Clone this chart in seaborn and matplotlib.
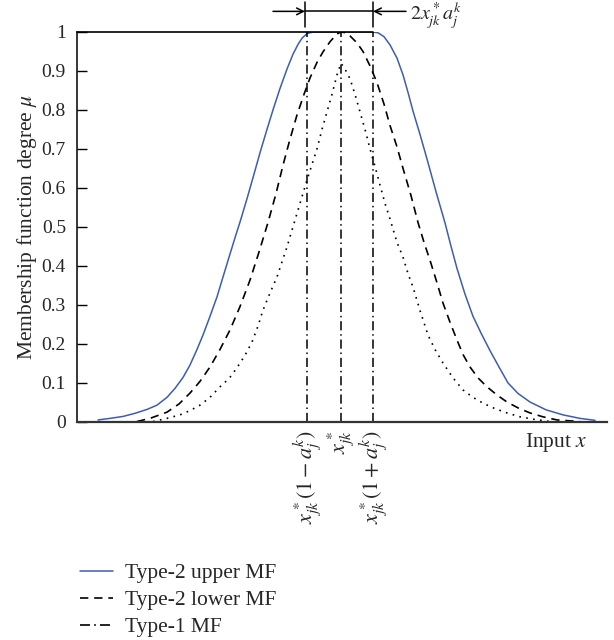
import numpy as np
import pandas as pd
import matplotlib
matplotlib.use("Agg")
import matplotlib.pyplot as plt
import seaborn as sns
from matplotlib.lines import Line2D

# ---------------- data (x in arbitrary input units) ----------------
upper_x = [98, 110, 123, 135, 147, 157, 167, 175, 183, 190, 197, 203, 210, 217, 223, 230, 236, 240,
           247, 253, 260, 267, 273, 280, 287, 293, 298, 302, 307, 313,
           341, 373, 378, 384, 390, 397, 403, 408, 413, 420, 427, 436, 445, 451, 457, 465, 473,
           482, 490, 499, 508, 518, 530, 546, 563, 580, 595]
upper_y = [0.004, 0.008, 0.013, 0.021, 0.031, 0.042, 0.062, 0.085, 0.113, 0.145, 0.185, 0.222, 0.27, 0.32,
           0.371, 0.43, 0.48, 0.512, 0.572, 0.626, 0.69, 0.75, 0.80, 0.855, 0.905, 0.943, 0.968, 0.984,
           0.996, 1.0,
           1.0, 1.0, 0.998, 0.988, 0.967, 0.933, 0.89, 0.845, 0.797, 0.737, 0.674, 0.59, 0.51, 0.45,
           0.393, 0.327, 0.27, 0.222, 0.182, 0.14, 0.099, 0.072, 0.05, 0.03, 0.017, 0.008, 0.003]

lower_x = [137, 150, 167, 179, 190, 200, 210, 220, 230, 240, 250, 259, 268, 276, 283, 290, 297, 304,
           310, 317, 323, 330, 337, 341, 346, 350, 357, 363, 370, 377, 384, 390, 397, 403, 411, 418,
           424, 430, 437, 443, 450, 457, 463, 470, 478, 487, 497, 507, 518, 530, 543, 557, 580]
lower_y = [0.0, 0.008, 0.024, 0.045, 0.073, 0.103, 0.14, 0.185, 0.235, 0.295, 0.363, 0.435, 0.511,
           0.585, 0.658, 0.725, 0.787, 0.84, 0.882, 0.922, 0.949, 0.975, 0.995, 1.0, 0.998, 0.99,
           0.972, 0.95, 0.913, 0.87, 0.815, 0.76, 0.705, 0.65, 0.58, 0.511, 0.46, 0.414, 0.356,
           0.304, 0.255, 0.209, 0.172, 0.14, 0.112, 0.089, 0.068, 0.05, 0.035, 0.022, 0.012, 0.004, 0.0]

type1_x = [153, 167, 180, 190, 200, 210, 220, 229, 237, 245, 252, 258, 263, 270, 277, 282, 287, 293,
           300, 307, 312, 317, 322, 327, 332, 337, 341, 345, 350, 355, 360, 365, 370, 375, 380, 385,
           390, 397, 403, 408, 413, 420, 428, 435, 443, 453, 463, 473, 483, 495, 507, 520, 533, 550]
type1_y = [0.0, 0.008, 0.017, 0.028, 0.042, 0.062, 0.089, 0.11, 0.138, 0.17, 0.204, 0.245, 0.286,
           0.33, 0.371, 0.41, 0.448, 0.5, 0.56, 0.62, 0.66, 0.70, 0.75, 0.795, 0.84, 0.89, 0.92,
           0.905, 0.88, 0.84, 0.795, 0.75, 0.70, 0.655, 0.607, 0.56, 0.52, 0.46, 0.422, 0.38,
           0.345, 0.285, 0.222, 0.185, 0.15, 0.112, 0.081, 0.062, 0.047, 0.033, 0.022, 0.012,
           0.006, 0.0]

ref_x = [307, 341, 373]
ref_labels = [r"$x^*_{jk}(1-a^k_j)$", r"$x^*_{jk}$", r"$x^*_{jk}(1+a^k_j)$"]
ytick_vals = [0, 0.1, 0.2, 0.3, 0.4, 0.5, 0.6, 0.7, 0.8, 0.9, 1]
ytick_labels = ["0", "0.1", "0.2", "0.3", "0.4", "0.5", "0.6", "0.7", "0.8", "0.9", "1"]
legend_labels = ["Type-2 upper MF", "Type-2 lower MF", "Type-1 MF"]

# ---------------- style ----------------
sns.set_theme(style="white")
plt.rcParams["font.family"] = ["Liberation Serif", "DejaVu Serif"]
plt.rcParams["mathtext.fontset"] = "stix"
FS = 14
FS_L = 15.5

BLUE = "#3d5db3"
DASH = (0, (5, 3.5))
DOT = (0, (1, 3.2))
DASHDOT = (0, (6, 2.5, 1, 2.5))

fig = plt.figure(figsize=(6.14, 6.4), dpi=100)
ax = fig.add_axes([77 / 614, 1 - 421.5 / 640, 530 / 614, 389.5 / 640])

df_u = pd.DataFrame({"x": upper_x, "y": upper_y})
df_l = pd.DataFrame({"x": lower_x, "y": lower_y})
df_t = pd.DataFrame({"x": type1_x, "y": type1_y})

sns.lineplot(data=df_u, x="x", y="y", ax=ax, color=BLUE, lw=1.1,
             estimator=None, sort=False)
sns.lineplot(data=df_l, x="x", y="y", ax=ax, color="black", lw=1.2,
             estimator=None, sort=False, linestyle=DASH)
sns.lineplot(data=df_t, x="x", y="y", ax=ax, color="black", lw=1.2,
             estimator=None, sort=False, linestyle=DOT)

for xv in ref_x:
    ax.plot([xv, xv], [0, 1], color="black", lw=1.1, linestyle=DASHDOT)

# horizontal line at mu = 1 up to the right reference line
ax.plot([77, ref_x[2]], [1, 1], color="black", lw=1.2, clip_on=False)

ax.set_xlim(77, 607)
ax.set_ylim(0, 1)
ax.spines["top"].set_visible(False)
ax.spines["right"].set_visible(False)
ax.spines["left"].set_color("black")
ax.spines["left"].set_linewidth(1.1)
ax.spines["bottom"].set_color("#333333")
ax.spines["bottom"].set_linewidth(1.6)

ax.set_yticks(ytick_vals)
ax.set_yticklabels(ytick_labels, fontsize=FS)
ax.tick_params(axis="y", direction="in", length=7, width=1, color="black", pad=8, left=True)

ax.set_xticks(ref_x)
ax.set_xticklabels(ref_labels, rotation=90, fontsize=16, va="top", ha="center")
ax.tick_params(axis="x", length=0, pad=6, bottom=True)

ax.set_xlabel("")
ax.set_ylabel(r"Membership function degree $\mu$", fontsize=FS_L, labelpad=2)

ax.text(587, -0.053, r"Input $x$", fontsize=FS_L, ha="right", va="center")

# top annotation (width of the flat region)
y_arrow = 1.053
bx0, bx1 = ref_x[0] - 2, ref_x[2]
ax.plot([bx0, bx0], [1.0128, 1.077], color="black", lw=1.1, clip_on=False)
ax.plot([bx1, bx1], [1.0128, 1.077], color="black", lw=1.1, clip_on=False)
ax.plot([bx0, bx1], [y_arrow, y_arrow], color="black", lw=1.1, clip_on=False)
ax.annotate("", xy=(bx0, y_arrow), xytext=(bx0 - 32, y_arrow),
            arrowprops=dict(arrowstyle="->", lw=1.1, color="black", shrinkA=0, shrinkB=0),
            annotation_clip=False)
ax.annotate("", xy=(bx1, y_arrow), xytext=(bx1 + 33, y_arrow),
            arrowprops=dict(arrowstyle="->", lw=1.1, color="black", shrinkA=0, shrinkB=0),
            annotation_clip=False)
ax.text(bx1 + 37, 1.028, r"$2x^*_{jk}a^k_j$", fontsize=14.5, ha="left", va="baseline",
        clip_on=False)

# legend
handles = [
    Line2D([0], [0], color=BLUE, lw=1.1),
    Line2D([0], [0], color="black", lw=1.2, linestyle=DASH),
    Line2D([0], [0], color="black", lw=1.2, linestyle=DASHDOT),
]
fig.legend(handles, legend_labels, loc="upper left", bbox_to_anchor=(80 / 614, 1 - 563 / 640),
           frameon=False, fontsize=FS_L, handlelength=1.55, handletextpad=0.55,
           labelspacing=0.33, borderpad=0, borderaxespad=0)

fig.savefig("out.png", dpi=100)
